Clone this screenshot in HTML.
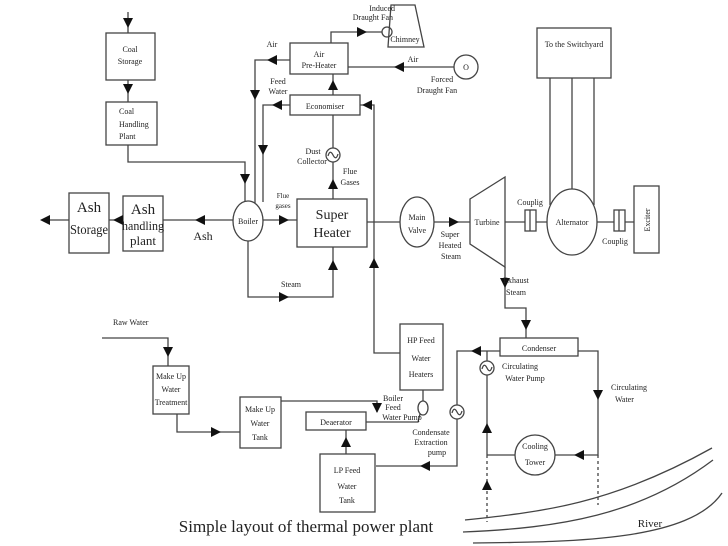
<!DOCTYPE html>
<html><head><meta charset="utf-8"><style>
html,body{margin:0;padding:0;background:#fff;}
svg{display:block;}
text{font-family:"Liberation Serif",serif;fill:#222;}
</style></head><body>
<svg width="728" height="546" viewBox="0 0 728 546" xmlns="http://www.w3.org/2000/svg">
<g stroke="#444" stroke-width="1.3" fill="none">
<line x1="128" y1="12" x2="128" y2="33"/>
<rect x="106" y="33" width="49" height="47"/>
<line x1="128" y1="80" x2="128" y2="102"/>
<rect x="106" y="102" width="51" height="43"/>
<polyline points="128,145 128,162 245,162 245,202"/>
<line x1="42" y1="220" x2="233" y2="220"/>
<rect x="69" y="193" width="40" height="60" fill="#fff"/>
<rect x="123" y="196" width="40" height="55" fill="#fff"/>
<ellipse cx="248" cy="221" rx="15" ry="20" fill="#fff"/>
<line x1="263" y1="220" x2="297" y2="220"/>
<rect x="297" y="199" width="70" height="48"/>
<polyline points="248,241 248,297 333,297 333,247"/>
<rect x="290" y="43" width="58" height="31"/>
<rect x="290" y="95" width="70" height="20"/>
<polyline points="290,60 255,60 255,203"/>
<polyline points="290,105 263,105 263,202"/>
<line x1="333" y1="95" x2="333" y2="74"/>
<line x1="333" y1="199" x2="333" y2="162"/>
<line x1="333" y1="148" x2="333" y2="115"/>
<circle cx="333" cy="155" r="7"/>
<path d="M328,156 q2,-7 5,-1 q3,6 5,-1"/>
<polyline points="331,43 331,32 382,32"/>
<circle cx="387" cy="32" r="5"/>
<polygon points="391,5 415,5 424,47 388,47"/>
<line x1="348" y1="67" x2="454" y2="67"/>
<circle cx="466" cy="67" r="12"/>
<polyline points="360,105 374,105 374,353 400,353"/>
<rect x="400" y="324" width="43" height="66"/>
<line x1="367" y1="222" x2="470" y2="222"/>
<ellipse cx="417" cy="222" rx="17" ry="25" fill="#fff"/>
<polygon points="470,199 505,177 505,267 470,244" fill="#fff"/>
<line x1="505" y1="222" x2="634" y2="222"/>
<rect x="525" y="210" width="11" height="21" fill="#fff"/>
<line x1="530" y1="210" x2="530" y2="231"/>
<rect x="614" y="210" width="11" height="21" fill="#fff"/>
<line x1="619" y1="210" x2="619" y2="231"/>
<rect x="537" y="28" width="74" height="50"/>
<line x1="550" y1="78" x2="550" y2="205"/>
<line x1="572" y1="78" x2="572" y2="190"/>
<line x1="594" y1="78" x2="594" y2="205"/>
<ellipse cx="572" cy="222" rx="25" ry="33" fill="#fff"/>
<rect x="634" y="186" width="25" height="67" fill="#fff"/>
<polyline points="505,267 505,308 526,308 526,338"/>
<rect x="500" y="338" width="78" height="18"/>
<polyline points="500,351 457,351 457,405"/>
<polyline points="457,419 457,466 376,466"/>
<circle cx="457" cy="412" r="7"/>
<path d="M452,413 q2,-7 5,-1 q3,6 5,-1"/>
<line x1="487" y1="351" x2="487" y2="361"/>
<circle cx="487" cy="368" r="7"/>
<path d="M482,369 q2,-7 5,-1 q3,6 5,-1"/>
<line x1="487" y1="375" x2="487" y2="455"/>
<line x1="487" y1="455" x2="515" y2="455"/>
<circle cx="535" cy="455" r="20"/>
<polyline points="578,351 598,351 598,455 555,455"/>
<line x1="487" y1="455" x2="487" y2="522" stroke-dasharray="3,3"/>
<line x1="598" y1="455" x2="598" y2="505" stroke-dasharray="3,3"/>
<path d="M465,520 C540,512 610,505 712,448"/>
<path d="M463,532 C560,528 640,515 713,460"/>
<path d="M473,543 C580,542 690,540 722,493"/>
<polyline points="102,338 168,338 168,366"/>
<rect x="153" y="366" width="36" height="48"/>
<polyline points="177,414 177,432 240,432"/>
<rect x="240" y="397" width="41" height="51"/>
<polyline points="281,401 377,401 377,412"/>
<rect x="306" y="412" width="60" height="18"/>
<polyline points="366,422 418,422 420,414"/>
<line x1="423" y1="390" x2="423" y2="401"/>
<ellipse cx="423" cy="408" rx="5" ry="7"/>
<line x1="346" y1="430" x2="346" y2="454"/>
<rect x="320" y="454" width="55" height="58"/>
</g>
<g fill="#111">
<path d="M123,18 h10 l-5,10z"/><path d="M123,84 h10 l-5,10z"/><path d="M240,174 h10 l-5,10z"/>
<path d="M50,215 v10 l-10,-5z"/><path d="M123,215 v10 l-10,-5z"/><path d="M205,215 v10 l-10,-5z"/>
<path d="M279,215 v10 l10,-5z"/><path d="M279,292 v10 l10,-5z"/><path d="M328,270 h10 l-5,-10z"/>
<path d="M328,189 h10 l-5,-10z"/><path d="M328,90 h10 l-5,-10z"/>
<path d="M250,90 h10 l-5,10z"/><path d="M258,145 h10 l-5,10z"/>
<path d="M277,55 v10 l-10,-5z"/><path d="M282,100 v10 l-10,-5z"/><path d="M372,100 v10 l-10,-5z"/>
<path d="M357,27 v10 l10,-5z"/><path d="M404,62 v10 l-10,-5z"/>
<path d="M369,268 h10 l-5,-10z"/><path d="M449,217 v10 l10,-5z"/>
<path d="M500,278 h10 l-5,10z"/><path d="M521,320 h10 l-5,10z"/>
<path d="M481,346 v10 l-10,-5z"/><path d="M430,461 v10 l-10,-5z"/>
<path d="M593,390 h10 l-5,10z"/><path d="M584,450 v10 l-10,-5z"/>
<path d="M482,433 h10 l-5,-10z"/><path d="M482,490 h10 l-5,-10z"/>
<path d="M163,347 h10 l-5,10z"/><path d="M211,427 v10 l10,-5z"/>
<path d="M372,403 h10 l-5,10z"/><path d="M341,447 h10 l-5,-10z"/>
</g>
<g font-size="8">
<text x="130" y="52" text-anchor="middle">Coal</text><text x="130" y="64" text-anchor="middle">Storage</text>
<text x="119" y="114">Coal</text><text x="119" y="127">Handling</text><text x="119" y="139">Plant</text>
<text x="319" y="57" text-anchor="middle">Air</text><text x="319" y="68" text-anchor="middle">Pre-Heater</text>
<text x="325" y="109" text-anchor="middle">Economiser</text>
<text x="272" y="47" text-anchor="middle">Air</text>
<text x="278" y="84" text-anchor="middle">Feed</text><text x="278" y="94" text-anchor="middle">Water</text>
<text x="313" y="154" text-anchor="middle">Dust</text><text x="312" y="164" text-anchor="middle">Collector</text>
<text x="350" y="174" text-anchor="middle">Flue</text><text x="350" y="185" text-anchor="middle">Gases</text>
<text x="283" y="198" text-anchor="middle" font-size="7">Flue</text><text x="283" y="208" text-anchor="middle" font-size="7">gases</text>
<text x="248" y="224" text-anchor="middle">Boiler</text>
<text x="291" y="287" text-anchor="middle">Steam</text>
<text x="395" y="11" text-anchor="end">Induced</text><text x="393" y="20" text-anchor="end">Draught Fan</text>
<text x="405" y="42" text-anchor="middle">Chimney</text>
<text x="466" y="70" text-anchor="middle">O</text>
<text x="413" y="62" text-anchor="middle">Air</text>
<text x="442" y="82" text-anchor="middle">Forced</text><text x="437" y="93" text-anchor="middle">Draught Fan</text>
<text x="574" y="47" text-anchor="middle">To the Switchyard</text>
<text x="417" y="220" text-anchor="middle">Main</text><text x="417" y="233" text-anchor="middle">Valve</text>
<text x="450" y="237" text-anchor="middle">Super</text><text x="450" y="248" text-anchor="middle">Heated</text><text x="451" y="259" text-anchor="middle">Steam</text>
<text x="487" y="225" text-anchor="middle">Turbine</text>
<text x="530" y="205" text-anchor="middle">Couplig</text>
<text x="572" y="225" text-anchor="middle">Alternator</text>
<text x="615" y="244" text-anchor="middle">Couplig</text>
<text transform="translate(650,220) rotate(-90)" text-anchor="middle">Exciter</text>
<text x="516" y="283" text-anchor="middle">Exhaust</text><text x="516" y="295" text-anchor="middle">Steam</text>
<text x="539" y="351" text-anchor="middle">Condenser</text>
<text x="421" y="343" text-anchor="middle">HP Feed</text><text x="421" y="361" text-anchor="middle">Water</text><text x="421" y="377" text-anchor="middle">Heaters</text>
<text x="520" y="369" text-anchor="middle">Circulating</text><text x="525" y="381" text-anchor="middle">Water Pump</text>
<text x="611" y="390">Circulating</text><text x="615" y="402">Water</text>
<text x="535" y="449" text-anchor="middle">Cooling</text><text x="535" y="465" text-anchor="middle">Tower</text>
<text x="393" y="401" text-anchor="middle">Boiler</text><text x="393" y="410" text-anchor="middle">Feed</text><text x="402" y="420" text-anchor="middle">Water Pump</text>
<text x="431" y="435" text-anchor="middle">Condensate</text><text x="431" y="445" text-anchor="middle">Extraction</text><text x="437" y="455" text-anchor="middle">pump</text>
<text x="113" y="325">Raw Water</text>
<text x="171" y="379" text-anchor="middle">Make Up</text><text x="171" y="392" text-anchor="middle">Water</text><text x="171" y="405" text-anchor="middle">Treatment</text>
<text x="260" y="412" text-anchor="middle">Make Up</text><text x="260" y="426" text-anchor="middle">Water</text><text x="260" y="440" text-anchor="middle">Tank</text>
<text x="336" y="425" text-anchor="middle">Deaerator</text>
<text x="347" y="473" text-anchor="middle">LP Feed</text><text x="347" y="489" text-anchor="middle">Water</text><text x="347" y="503" text-anchor="middle">Tank</text>
</g>
<text x="89" y="212" font-size="15" text-anchor="middle">Ash</text>
<text x="70" y="234" font-size="14" textLength="38" lengthAdjust="spacingAndGlyphs">Storage</text>
<text x="143" y="214" font-size="15" text-anchor="middle">Ash</text>
<text x="122" y="230" font-size="13" textLength="42" lengthAdjust="spacingAndGlyphs">handling</text>
<text x="143" y="245" font-size="13" text-anchor="middle">plant</text>
<text x="203" y="240" font-size="12" text-anchor="middle">Ash</text>
<text x="332" y="219" font-size="14" text-anchor="middle">Super</text>
<text x="332" y="237" font-size="14" text-anchor="middle">Heater</text>
<text x="650" y="527" font-size="11" text-anchor="middle">River</text>
<text x="306" y="532" font-size="17" text-anchor="middle">Simple layout of thermal power plant</text>
</svg>
</body></html>
